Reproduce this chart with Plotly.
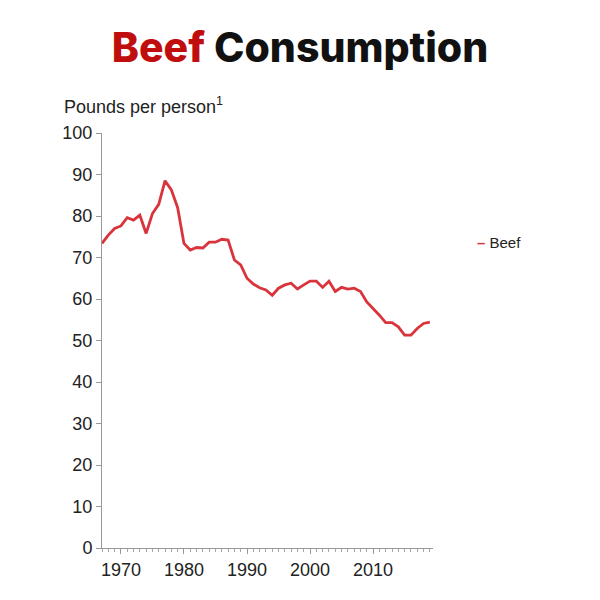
import plotly.graph_objects as go

years = list(range(1967, 2020))
beef = [73.4, 75.4, 77.0, 77.6, 79.6, 79.0, 80.2, 75.8, 80.6, 82.8,
        88.5, 86.3, 82.0, 73.4, 71.8, 72.4, 72.3, 73.7, 73.7, 74.4,
        74.2, 69.4, 68.2, 65.0, 63.6, 62.7, 62.2, 60.9, 62.6, 63.4,
        63.8, 62.4, 63.4, 64.3, 64.3, 62.8, 64.3, 61.8, 62.8, 62.4,
        62.6, 61.8, 59.3, 57.8, 56.1, 54.3, 54.3, 53.3, 51.3, 51.3,
        52.9, 54.1, 54.4]

y_ticks = [0, 10, 20, 30, 40, 50, 60, 70, 80, 90, 100]
x_ticks = [1970, 1980, 1990, 2000, 2010]
line_color = "#d9343c"

fig = go.Figure()
fig.add_trace(go.Scatter(x=years, y=beef, mode="lines", name="Beef",
                         line=dict(color=line_color, width=2.8), showlegend=False))

axis_font = dict(family="Liberation Sans, Arial", size=18, color="#222222")
fig.update_layout(
    width=600, height=600,
    paper_bgcolor="white", plot_bgcolor="white",
    margin=dict(l=94, r=175, t=125, b=60),
    font=dict(family="Liberation Sans, Arial", color="#222222"),
    title=dict(
        text="<span style='color:#c00d0d'>Beef</span> Consumption",
        x=292 / 600, xanchor="center", y=1 - 40 / 600, yanchor="middle",
        xref="container", yref="container",
        font=dict(family="Inter, Open Sans", size=41, color="#111111", weight=800),
    ),
    xaxis=dict(range=[1967, 2019.5], tickvals=x_ticks, showgrid=False, zeroline=False,
               showline=True, linecolor="#999999", linewidth=1,
               ticks="outside", ticklen=5, tickcolor="#999999",
               tickfont=axis_font,
               minor=dict(dtick=1, tick0=1967, ticks="outside", ticklen=3, tickcolor="#aaaaaa")),
    yaxis=dict(range=[0, 100], tickvals=y_ticks, showgrid=False, zeroline=False,
               showline=True, linecolor="#999999", linewidth=1,
               ticks="outside", ticklen=5, tickcolor="#999999",
               tickfont=axis_font),
)

fig.add_annotation(text="Pounds per person<sup>1</sup>", xref="paper", yref="paper",
                   x=-0.121, y=1.067, xanchor="left", yanchor="middle", showarrow=False,
                   font=dict(family="Liberation Sans, Arial", size=18, color="#222222"))

fig.add_annotation(text=f"<b><span style='color:{line_color}'>–</span></b> Beef",
                   xref="paper", yref="paper",
                   x=1.128, y=0.735, xanchor="left", yanchor="middle", showarrow=False,
                   font=dict(family="Liberation Sans, Arial", size=15, color="#222222"))

fig.write_html("out.html")
